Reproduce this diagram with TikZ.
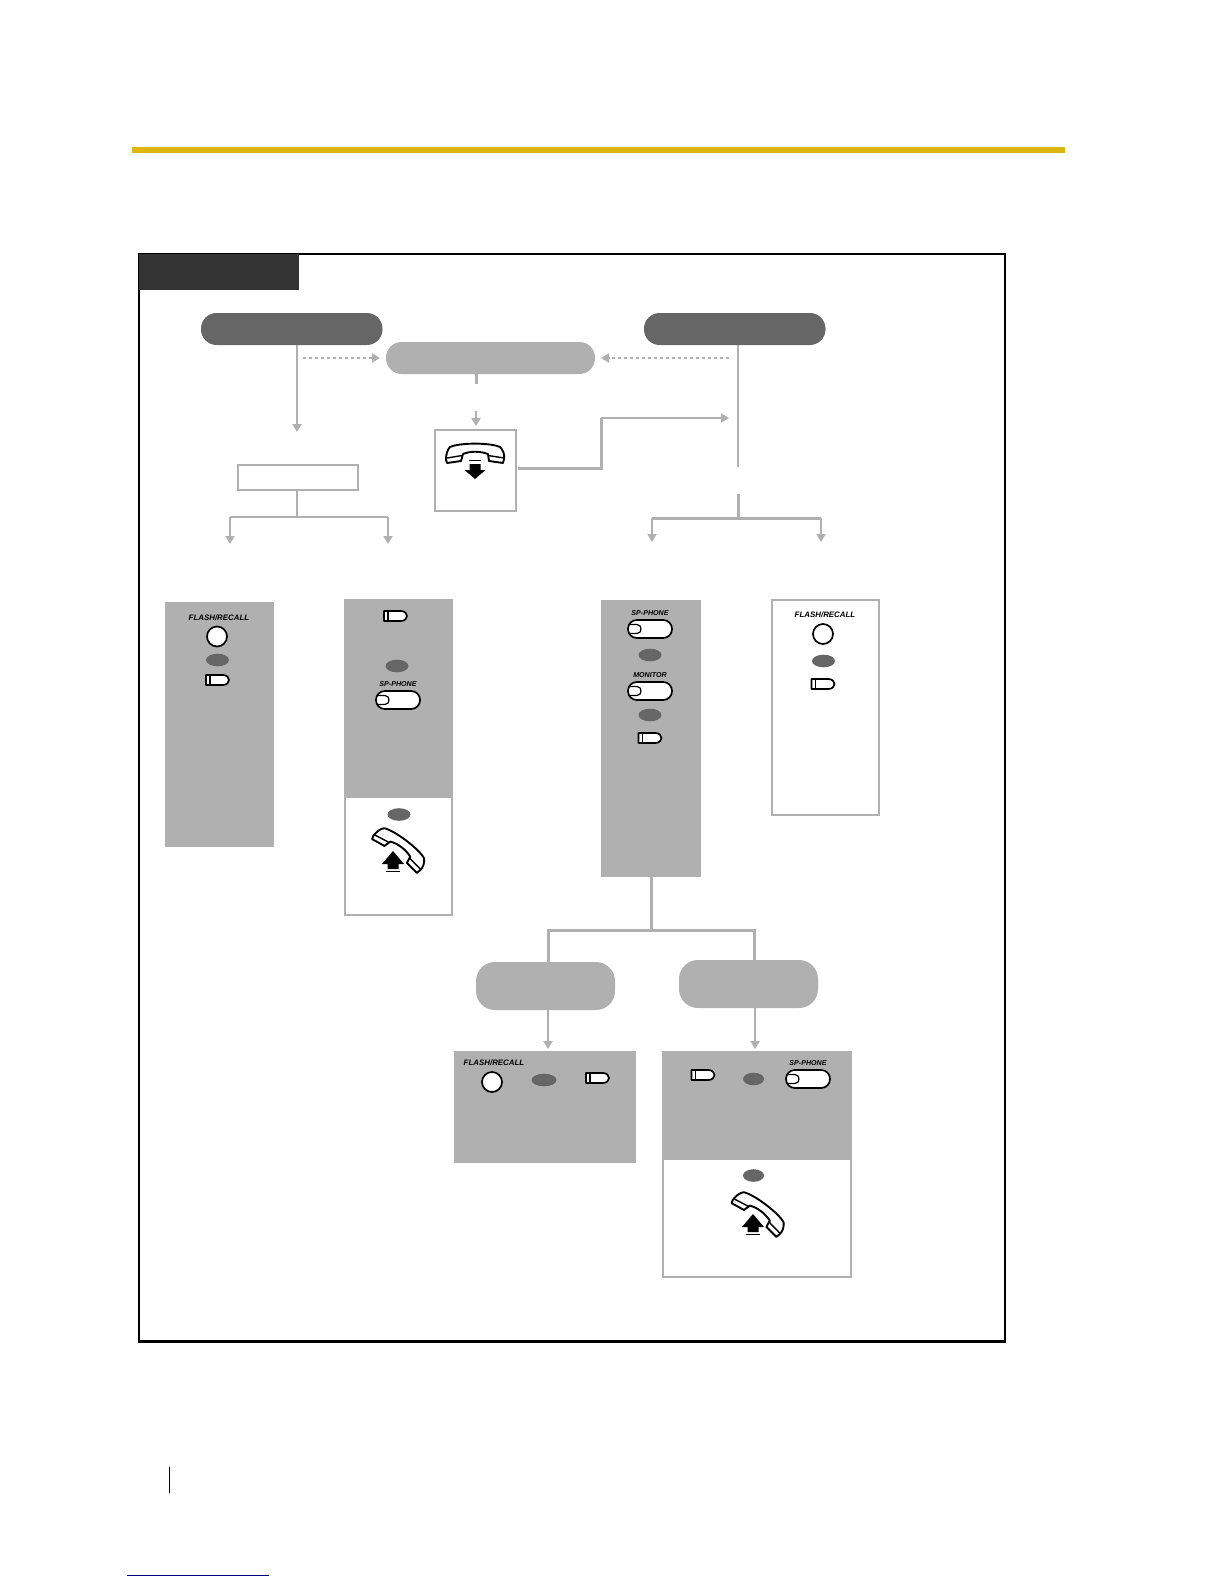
\documentclass[tikz,border=0pt]{standalone}
\usepackage{fontspec}
\setmainfont{Liberation Sans}
\usetikzlibrary{arrows.meta,shapes.geometric,calc}
\definecolor{lightg}{HTML}{B0B0B0}
\definecolor{darkg}{HTML}{666666}
\definecolor{tabg}{HTML}{333333}
\definecolor{barc}{HTML}{DDB70F}
\definecolor{linkc}{HTML}{000080}
\tikzset{
  gbox/.style={rectangle,inner sep=0pt,outer sep=0pt,fill=lightg},
  wbox/.style={rectangle,inner sep=0pt,outer sep=0pt,draw=lightg,line width=1pt,fill=white},
  pillbox/.style={rectangle,rounded corners=7.8pt,inner sep=0pt,outer sep=0pt},
  bigpill/.style={rectangle,rounded corners=9.5pt,inner sep=0pt,outer sep=0pt,fill=lightg},
  ovalk/.style={ellipse,inner sep=0pt,outer sep=0pt,fill=darkg,minimum width=11.5pt,minimum height=6.3pt},
  roundk/.style={circle,inner sep=0pt,outer sep=0pt,draw=black,line width=.85pt,fill=white,minimum size=10pt},
  keylabel/.style={inner sep=0pt,font=\fontsize{3.95}{4}\selectfont\bfseries\itshape},
  keysmall/.style={inner sep=0pt,font=\fontsize{3.55}{4}\selectfont\bfseries\itshape},
  conn/.style={draw=lightg,line width=1pt},
  heavy/.style={draw=lightg,line width=1.5pt},
  tip/.style={-{Triangle[width=4.5pt,length=4pt]}},
  dots/.style={draw=lightg,line width=1pt,dash pattern=on 1.5pt off 1.5pt},
  iconline/.style={draw=black,line width=.85pt,fill=white,line join=round}
}
\newcommand{\BoxAt}[6]{\node[#6,minimum width={(#4-#2)*0.5pt},minimum height={(#5-#3)*0.5pt}] (#1) at ({(#2+#4)/2},{(#3+#5)/2}) {};}
\newcommand{\softkey}[2]{\begin{scope}[shift={(#1,#2)}]
  \draw[iconline] (-11,-5) -- (6,-5) .. controls (10,-5) and (12,-2) .. (12,0) .. controls (12,2) and (10,5) .. (6,5) -- (-11,5) -- cycle;
  \draw[black,line width=.85pt] (-7,-5) -- (-7,5);
\end{scope}}
\newcommand{\longkey}[2]{\begin{scope}[shift={(#1,#2)}]
  \draw[iconline,rounded corners=4.4pt] (-22,-9) rectangle (22,9);
  \draw[black,line width=.6pt] (-21.5,-4.5) -- (-13,-4.5) .. controls (-10,-4.5) and (-9,-2) .. (-9,0) .. controls (-9,2) and (-10,4.5) .. (-13,4.5) -- (-21.5,4.5);
\end{scope}}
\newcommand{\handsetpath}{
  \draw[iconline,line width=.95pt] (-29,7) .. controls (-29,2) and (-28,-3) .. (-25,-6) .. controls (-15,-10.5) and (15,-10.5) .. (25,-6) .. controls (28,-3) and (30,2) .. (29,6) -- (28,10) -- (14,8) -- (13,1) .. controls (5,-2) and (-5,-2) .. (-12,1) -- (-14,8) -- (-28,10) -- cycle;
  \draw[black,line width=.7pt] (-28,5) -- (-13,2.5) (13,2.5) -- (29,5);
}
\newcommand{\handsetdown}[2]{\begin{scope}[shift={(#1,#2)}]\handsetpath\end{scope}}
\newcommand{\handsetup}[2]{\begin{scope}[shift={(#1,#2)},rotate=-37]\handsetpath\end{scope}}
\newcommand{\arrowup}[2]{\begin{scope}[shift={(#1,#2)}]
  \fill[black] (0,0) -- (11,13) -- (5.5,13) -- (5.5,18) -- (-5.5,18) -- (-5.5,13) -- (-11,13) -- cycle;
  \fill[black] (-7,19.5) rectangle (7,21);
\end{scope}}
\newcommand{\arrowdown}[2]{\begin{scope}[shift={(#1,#2)}]
  \fill[black] (0,0) -- (10.5,-9) -- (5.5,-9) -- (5.5,-15) -- (-5.5,-15) -- (-5.5,-9) -- (-10.5,-9) -- cycle;
  \fill[black] (-6,-19.5) rectangle (6,-18);
\end{scope}}
\begin{document}
\begin{tikzpicture}[x=0.5pt,y=-0.5pt]
\useasboundingbox (0,0) rectangle (1224,1584);
% page furniture
\fill[barc] (132,147) rectangle (1065,152.5);
\draw[black,line width=.5pt] (169,1467) -- (169,1493);
\draw[linkc,line width=.5pt] (127,1575) -- (269,1575);
% frame and tab
\BoxAt{frame}{139}{254}{1005}{1341.5}{rectangle,inner sep=0pt,outer sep=0pt,draw=black,line width=1.1pt}
\BoxAt{tab}{139}{254}{299}{290}{rectangle,inner sep=0pt,outer sep=0pt,fill=tabg}
% pills
\BoxAt{pillA}{201}{313}{382.5}{345}{pillbox,fill=darkg}
\BoxAt{pillB}{386}{342}{595}{374}{pillbox,fill=lightg}
\BoxAt{pillC}{644}{313}{825.5}{345}{pillbox,fill=darkg}
\BoxAt{pillD}{476}{962}{615}{1010}{bigpill}
\BoxAt{pillE}{679}{960}{818}{1008}{bigpill}
% plain boxes
\BoxAt{midrect}{238}{465}{358}{490}{wbox}
\BoxAt{phonebox}{435}{430}{515.5}{511}{wbox}
\BoxAt{boxA}{165}{602}{274}{847}{gbox}
\BoxAt{boxB}{345}{600}{452}{915}{wbox}
\BoxAt{boxBg}{344.5}{599.5}{452.5}{798}{gbox}
\BoxAt{boxC}{601}{600}{701}{877}{gbox}
\BoxAt{boxD}{772}{600}{879}{815}{wbox}
\BoxAt{boxE}{454}{1051}{636}{1163}{gbox}
\BoxAt{boxF}{663}{1060}{851}{1276.5}{wbox}
\BoxAt{boxFg}{662}{1051}{852}{1160}{gbox}
% junction coordinates
\coordinate (jA) at (297,358);
\coordinate (endA) at (297,432);
\coordinate (dotA) at (303,358);
\coordinate (dotAe) at (380,358);
\coordinate (dotC) at (729,358);
\coordinate (dotCe) at (601,358);
\coordinate (stubB) at (476,384);
\coordinate (stubT) at (476,411);
\coordinate (stubE) at (476,426);
\coordinate (bendL) at (601,468);
\coordinate (bendU) at (601,418);
\coordinate (endU) at (729,418);
\coordinate (jR) at (738,467);
\coordinate (jR2) at (738,494);
\coordinate (jR3) at (738,518);
\coordinate (jL3) at (297,517);
\coordinate (aL) at (230,517);
\coordinate (aLe) at (230,544);
\coordinate (aR) at (388,517);
\coordinate (aRe) at (388,544);
\coordinate (bL) at (652,518);
\coordinate (bLe) at (652,542);
\coordinate (bR) at (821,518);
\coordinate (bRe) at (821,542);
\coordinate (jC) at (651,930);
\coordinate (cL) at (548,930);
\coordinate (cR) at (754,930);
\coordinate (dL) at (548,1049);
\coordinate (dR) at (755,1049);
% connectors
\draw[conn,tip] (pillA.south -| jA) -- (endA);
\draw[dots,tip] (dotA) -- (dotAe);
\draw[dots,tip] (dotC) -- (dotCe);
\draw[heavy] (pillB.south -| stubB) -- (stubB);
\draw[conn,tip] (stubT) -- (stubE);
\draw[heavy] ($(phonebox.east |- bendL)+(2,0)$) -- (bendL) -- (bendU);
\draw[conn,tip] (bendU) -- (endU);
\draw[conn] (pillC.south -| jR) -- (jR);
\draw[heavy] (jR2) -- (jR3);
\draw[heavy] (bL) -- (bR);
\draw[conn,tip] (bL) -- (bLe);
\draw[conn,tip] (bR) -- (bRe);
\draw[conn] (midrect.south -| jL3) -- (jL3);
\draw[conn] (aL) -- (aR);
\draw[conn,tip] (aL) -- (aLe);
\draw[conn,tip] (aR) -- (aRe);
\draw[heavy] (boxC.south -| jC) -- (jC);
\draw[heavy] (pillD.north -| cL) -- (cL) -- (cR) -- (pillE.north -| cR);
\draw[conn,tip] (pillD.south -| dL) -- (dL);
\draw[conn,tip] (pillE.south -| dR) -- (dR);
% phone icons
\handsetdown{475}{453}
\arrowdown{475}{479}
\handsetup{400.5}{848}
\arrowup{393}{851}
\handsetup{760}{1212}
\arrowup{753}{1214}
% box A
\node[keylabel] (la1) at (219,617.5) {FLASH/RECALL};
\node[roundk] (ra1) at (217,636.5) {};
\node[ovalk] (oa1) at (217.5,660) {};
\softkey{217}{680}
% box B
\softkey{395}{616}
\node[ovalk] (ob1) at (397,666) {};
\node[keysmall] (lb1) at (398,684) {SP-PHONE};
\longkey{398}{700}
\node[ovalk] (ob2) at (399,814.5) {};
% box C
\node[keysmall] (lc1) at (650,613) {SP-PHONE};
\longkey{650}{629}
\node[ovalk] (oc1) at (650,655) {};
\node[keysmall] (lc2) at (650,675) {MONITOR};
\longkey{650}{691}
\node[ovalk] (oc2) at (650,715) {};
\softkey{649.5}{738}
% box D
\node[keylabel] (ld1) at (825,615) {FLASH/RECALL};
\node[roundk] (rd1) at (823,634) {};
\node[ovalk] (od1) at (823.5,661) {};
\softkey{822.5}{684}
% box E
\node[keylabel] (le1) at (494,1063) {FLASH/RECALL};
\node[roundk] (re1) at (492,1082) {};
\node[ovalk,minimum width=12.5pt] (oe1) at (544,1080) {};
\softkey{597}{1078}
% box F
\softkey{702.5}{1075}
\node[ovalk,minimum width=10.5pt] (of1) at (753.5,1079) {};
\node[keysmall] (lf1) at (808,1063) {SP-PHONE};
\longkey{808}{1079}
\node[ovalk,minimum width=10.5pt] (of2) at (753.5,1175.5) {};
\end{tikzpicture}
\end{document}
